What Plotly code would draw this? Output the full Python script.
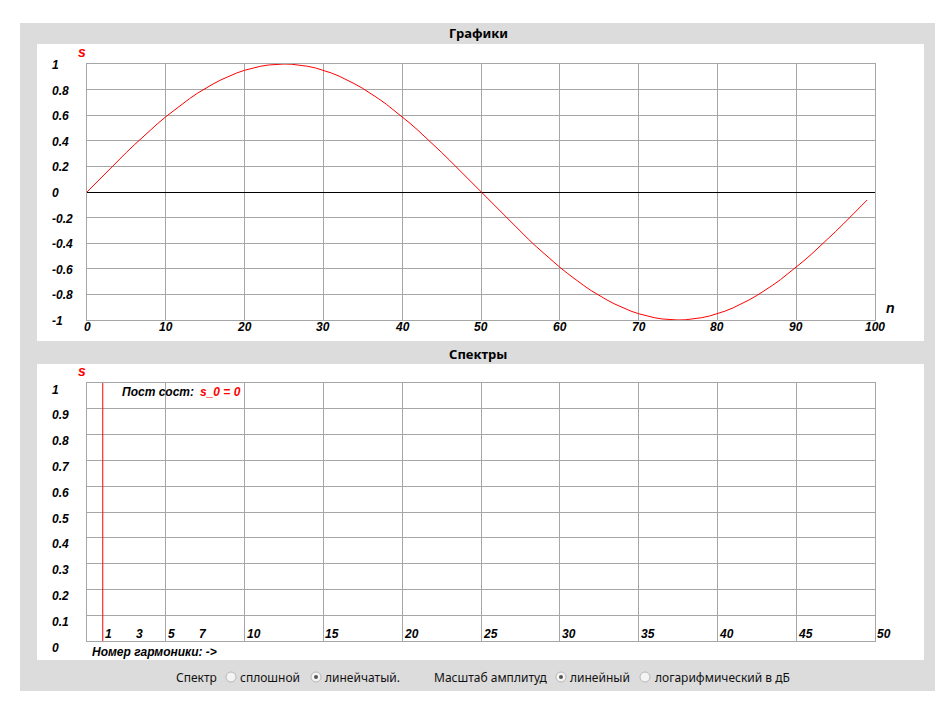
import plotly.graph_objects as go

# ---------------- data ----------------
n_values = list(range(100))
s_values = [
    0.000, 0.063, 0.125, 0.187, 0.249, 0.309, 0.368, 0.426, 0.482, 0.536,
    0.588, 0.637, 0.685, 0.729, 0.771, 0.809, 0.844, 0.876, 0.905, 0.930,
    0.951, 0.969, 0.982, 0.992, 0.998, 1.000, 0.998, 0.992, 0.982, 0.969,
    0.951, 0.930, 0.905, 0.876, 0.844, 0.809, 0.771, 0.729, 0.685, 0.637,
    0.588, 0.536, 0.482, 0.426, 0.368, 0.309, 0.249, 0.187, 0.125, 0.063,
    0.000, -0.063, -0.125, -0.187, -0.249, -0.309, -0.368, -0.426, -0.482, -0.536,
    -0.588, -0.637, -0.685, -0.729, -0.771, -0.809, -0.844, -0.876, -0.905, -0.930,
    -0.951, -0.969, -0.982, -0.992, -0.998, -1.000, -0.998, -0.992, -0.982, -0.969,
    -0.951, -0.930, -0.905, -0.876, -0.844, -0.809, -0.771, -0.729, -0.685, -0.637,
    -0.588, -0.536, -0.482, -0.426, -0.368, -0.309, -0.249, -0.187, -0.125, -0.063,
]
harmonics = [1]
amplitudes = [1.0]
s0_value = 0

top_x_ticks = [0, 10, 20, 30, 40, 50, 60, 70, 80, 90, 100]
top_y_ticks = [1, 0.8, 0.6, 0.4, 0.2, 0, -0.2, -0.4, -0.6, -0.8, -1]
top_y_labels = ["1", "0.8", "0.6", "0.4", "0.2", "0", "-0.2", "-0.4", "-0.6", "-0.8", "-1"]
bot_x_ticks = [1, 3, 5, 7, 10, 15, 20, 25, 30, 35, 40, 45, 50]
bot_y_ticks = [1, 0.9, 0.8, 0.7, 0.6, 0.5, 0.4, 0.3, 0.2, 0.1, 0]
bot_y_labels = ["1", "0.9", "0.8", "0.7", "0.6", "0.5", "0.4", "0.3", "0.2", "0.1", "0"]

# ---------------- geometry helpers (page pixels -> paper) ----------------
OFF = 8
W, H = 931, 692


def px(x):
    return (x - OFF) / W


def py(y):
    return 1 - (y - OFF) / H


RED = "#ff0000"
GRID = "#a6a6a6"
PANEL = "#dcdcdc"
TICKFONT = dict(family="Liberation Sans, Arial", size=12, color="black",
                weight="bold", style="italic")
UIFONT = dict(family="Noto Sans, DejaVu Sans", size=12, color="#111111")

fig = go.Figure()

# signal
fig.add_trace(go.Scatter(x=n_values, y=s_values, mode="lines",
                         line=dict(color=RED, width=1), xaxis="x", yaxis="y",
                         hoverinfo="skip", showlegend=False))

# spectrum lines
spec_x, spec_y = [], []
for h, a in zip(harmonics, amplitudes):
    spec_x += [h, h, None]
    spec_y += [0, a, None]
fig.add_trace(go.Scatter(x=spec_x, y=spec_y, mode="lines",
                         line=dict(color=RED, width=1), xaxis="x2", yaxis="y2",
                         hoverinfo="skip", showlegend=False))

axis_common = dict(showgrid=True, gridcolor=GRID, gridwidth=1, showline=True,
                   linecolor=GRID, linewidth=1, mirror=True, ticks="",
                   showticklabels=False, fixedrange=True)

fig.update_layout(
    width=W, height=H,
    margin=dict(l=0, r=0, t=0, b=0),
    paper_bgcolor="white", plot_bgcolor="rgba(0,0,0,0)",
    showlegend=False,
    xaxis=dict(domain=[px(87), px(875)], range=[0, 100], dtick=10, tick0=0,
               zeroline=False, anchor="y", **axis_common),
    yaxis=dict(domain=[py(320), py(64)], range=[-1, 1], dtick=0.2, tick0=0,
               zeroline=True, zerolinecolor="black", zerolinewidth=1,
               anchor="x", **axis_common),
    xaxis2=dict(domain=[px(87), px(875)], range=[0, 50], dtick=5, tick0=0,
                zeroline=False, anchor="y2", **axis_common),
    yaxis2=dict(domain=[py(641), py(383)], range=[0, 1], dtick=0.1, tick0=0,
                zeroline=False, anchor="x2", **axis_common),
)

shapes = [
    dict(type="rect", xref="paper", yref="paper", x0=px(20), x1=px(935),
         y0=py(691), y1=py(23), fillcolor=PANEL, line=dict(width=0), layer="below"),
    dict(type="rect", xref="paper", yref="paper", x0=px(37), x1=px(924),
         y0=py(341), y1=py(44), fillcolor="white", line=dict(width=0), layer="below"),
    dict(type="rect", xref="paper", yref="paper", x0=px(37), x1=px(924),
         y0=py(660), y1=py(364), fillcolor="white", line=dict(width=0), layer="below"),
]

annotations = []


def add_text(text, x, y, xanchor="left", font=None, xref="paper", yref="paper", yshift=0):
    annotations.append(dict(text=text, x=x, y=y, xref=xref, yref=yref,
                            xanchor=xanchor, yanchor="middle", showarrow=False,
                            font=font or TICKFONT, yshift=yshift))


# titles
title_font = dict(family="Noto Sans, DejaVu Sans", size=13, color="black", weight="bold")
add_text("Графики", px(478), py(33), xanchor="center", font=title_font)
add_text("Спектры", px(478), py(354), xanchor="center", font=title_font)

red_font = dict(TICKFONT, color=RED)
legend_font = dict(TICKFONT, color=RED, size=14)

# top chart tick labels
for v in top_x_ticks:
    add_text(str(v), v, py(327), xanchor="center", xref="x")
for v, lab in zip(top_y_ticks, top_y_labels):
    add_text(lab, px(50), v, xanchor="left", yref="y", yshift=-1)
add_text("s", px(76), py(52), font=legend_font)
add_text("n", px(884), py(307.5), font=dict(TICKFONT, size=14))

# bottom chart tick labels
for v in bot_x_ticks:
    add_text(str(v), v, py(634), xanchor="left", xref="x2")
for v, lab in zip(bot_y_ticks, bot_y_labels):
    add_text(lab, px(50), v, xanchor="left", yref="y2", yshift=-6.5)
add_text("s", px(76), py(371), font=legend_font)
add_text("Пост сост:", px(120), py(392), font=TICKFONT)
add_text("s_0 = " + str(s0_value), px(198), py(392), font=red_font)
add_text("Номер гармоники: ->", px(90), py(651.5), font=TICKFONT)

# control row
ui_y = py(677)
add_text("Спектр", px(174), ui_y, font=UIFONT)
add_text("сплошной", px(238), ui_y, font=UIFONT)
add_text("линейчатый.", px(323), ui_y, font=UIFONT)
add_text("Масштаб амплитуд", px(432), ui_y, font=UIFONT)
add_text("линейный", px(568), ui_y, font=UIFONT)
add_text("логарифмический в дБ", px(653), ui_y, font=UIFONT)

# radio buttons
for cx, checked in [(231, False), (316, True), (561, True), (645, False)]:
    r = 5
    shapes.append(dict(type="circle", xref="paper", yref="paper",
                       x0=px(cx - r), x1=px(cx + r), y0=py(677 + r), y1=py(677 - r),
                       fillcolor="#f4f4f4", line=dict(color="#b8b8b8", width=1)))
    if checked:
        shapes.append(dict(type="circle", xref="paper", yref="paper",
                           x0=px(cx - 2), x1=px(cx + 2), y0=py(679), y1=py(675),
                           fillcolor="#555555", line=dict(width=0)))

fig.update_layout(shapes=shapes, annotations=annotations)

fig.write_html("out.html")
